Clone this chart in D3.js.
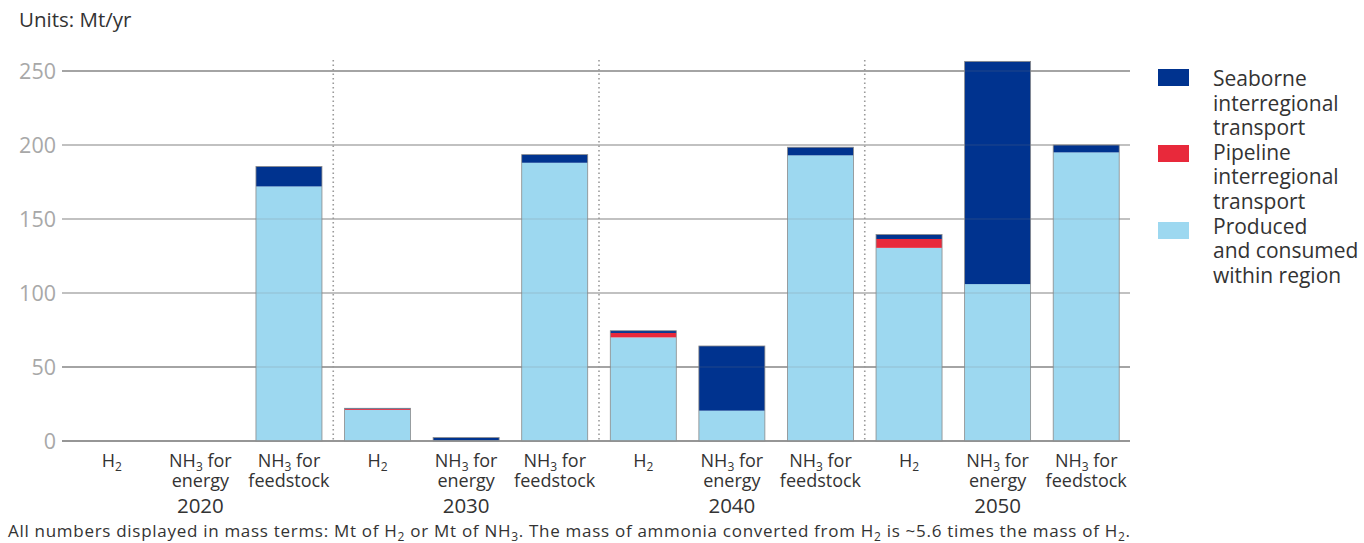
<!DOCTYPE html>
<html><head><meta charset="utf-8">
<script src="https://cdn.jsdelivr.net/npm/d3@7"></script>
<style>
html,body{margin:0;padding:0;background:#fff;}
svg{display:block;font-family:"Open Sans","Noto Sans",sans-serif;}
</style></head>
<body><svg id="chart" width="1364" height="543"></svg>
<script>
// ---- data ----
const years = ["2020", "2030", "2040", "2050"];
const kinds = [["H_{2}"], ["NH_{3} for", "energy"], ["NH_{3} for", "feedstock"]];
const produced = [0, 0, 172, 21, 0.3, 188, 70, 20.5, 193, 130.5, 106, 195];
const pipeline = [0, 0, 0, 0.6, 0, 0, 3, 0, 0, 6, 0, 0];
const seaborne = [0, 0, 13.5, 0.5, 2, 5.5, 1.5, 43.7, 5.5, 3, 150.5, 5];
const yTicks = [0, 50, 100, 150, 200, 250];
const seriesKeys = ["produced", "pipeline", "seaborne"];
const seriesColors = {produced: "#9dd8f0", pipeline: "#e8293b", seaborne: "#00338f"};
const legendItems = [
  {key: "seaborne", lines: ["Seaborne", "interregional", "transport"]},
  {key: "pipeline", lines: ["Pipeline", "interregional", "transport"]},
  {key: "produced", lines: ["Produced", "and consumed", "within region"]}
];
const unitsLabel = "Units: Mt/yr";
const footnote = "All numbers displayed in mass terms: Mt of H_{2} or Mt of NH_{3}. The mass of ammonia converted from H_{2} is ~5.6 times the mass of H_{2}.";

// ---- build rows ----
const rows = [];
years.forEach((yr, gi) => kinds.forEach((k, ki) => {
  const i = gi * kinds.length + ki;
  rows.push({id: yr + "-" + ki, year: yr, gi, ki, lines: k,
    produced: produced[i], pipeline: pipeline[i], seaborne: seaborne[i]});
}));

const svg = d3.select("#chart");
const x = d3.scaleBand().domain(rows.map(d => d.id)).range([67.5, 1130.5]).paddingInner(0.255).paddingOuter(0.1275);
const y = d3.scaleLinear().domain([0, 250]).range([441, 71]);
const gridX0 = 62, gridX1 = 1130;

// appends rich text (with _{sub}) to a text element; first tspan may carry x/dy for line breaks
function richText(sel, str, size, subSize, lineX, lineDy) {
  const parts = str.split(/(_\{[^}]*\})/).filter(p => p);
  let shift = 0, first = true;
  parts.forEach(p => {
    const m = p.match(/^_\{([^}]*)\}$/);
    let t;
    if (m) {
      t = sel.append("tspan").attr("font-size", subSize).text(m[1]);
      t.attr("dy", (first && lineDy ? lineDy : 0) + 3.5);
      shift = -3.5;
    } else {
      t = sel.append("tspan").attr("font-size", size).text(p);
      const dy = (first && lineDy ? lineDy : 0) + shift;
      if (dy) t.attr("dy", dy);
      shift = 0;
    }
    if (first && lineX !== undefined) t.attr("x", lineX);
    first = false;
  });
  return shift;
}

// units
svg.append("text").attr("x", 19).attr("y", 27).attr("font-size", 20.5).attr("fill", "#333").text(unitsLabel);

// gridlines + y labels
const gridColor = v => (v === 0 || v === 50 || v === 250) ? "#8f8f8f" : "#bdbdbd";
svg.append("g").selectAll("line").data(yTicks).join("line")
  .attr("x1", gridX0).attr("x2", gridX1)
  .attr("y1", d => y(d)).attr("y2", d => y(d))
  .attr("stroke", gridColor).attr("stroke-width", 1.3);
svg.append("g").selectAll("text").data(yTicks).join("text")
  .attr("x", 56).attr("y", d => y(d) + 7.5).attr("text-anchor", "end")
  .attr("font-size", 21.5).attr("fill", "#a8a8a8").text(d => d);

// bars
const stack = d3.stack().keys(seriesKeys)(rows);
const barG = svg.append("g");
stack.forEach(layer => {
  barG.append("g").attr("fill", seriesColors[layer.key])
    .selectAll("rect").data(layer.filter(d => d[1] - d[0] > 0)).join("rect")
    .attr("x", d => x(d.data.id)).attr("width", x.bandwidth())
    .attr("y", d => y(d[1])).attr("height", d => y(d[0]) - y(d[1]));
});
// bar outlines
barG.append("g").selectAll("rect").data(rows.filter(d => d.produced + d.pipeline + d.seaborne > 0)).join("rect")
  .attr("x", d => x(d.id)).attr("width", x.bandwidth())
  .attr("y", d => y(d.produced + d.pipeline + d.seaborne))
  .attr("height", d => y(0) - y(d.produced + d.pipeline + d.seaborne))
  .attr("fill", "none").attr("stroke", "#8a8a8a").attr("stroke-width", 0.8);

// faint gridlines over bars
svg.append("g").selectAll("line").data(yTicks.filter(v => v > 0)).join("line")
  .attr("x1", gridX0).attr("x2", gridX1)
  .attr("y1", d => y(d)).attr("y2", d => y(d))
  .attr("stroke", "#7a7a7a").attr("stroke-opacity", 0.18).attr("stroke-width", 1.3);
svg.append("line").attr("x1", gridX0).attr("x2", gridX1).attr("y1", y(0)).attr("y2", y(0))
  .attr("stroke", "#8f8f8f").attr("stroke-width", 1.3);

// dotted group separators
const seps = years.slice(1).map((yr, i) => {
  const prev = rows.find(r => r.gi === i && r.ki === kinds.length - 1).id;
  const next = rows.find(r => r.gi === i + 1 && r.ki === 0).id;
  return (x(prev) + x.bandwidth() + x(next)) / 2;
});
svg.append("g").selectAll("line").data(seps).join("line")
  .attr("x1", d => d).attr("x2", d => d).attr("y1", 60).attr("y2", y(0))
  .attr("stroke", "#9a9a9a").attr("stroke-width", 1.6).attr("stroke-dasharray", "1.5,3");

// category labels (one text element per category, lines as tspans)
const catG = svg.append("g").attr("fill", "#333").attr("text-anchor", "middle");
rows.forEach(r => {
  const cx = x(r.id) + x.bandwidth() / 2;
  const t = catG.append("text").attr("font-size", 18).attr("x", cx).attr("y", 467);
  let carry = 0;
  r.lines.forEach((ln, li) => {
    carry = richText(t, ln, 18, 12, cx, li === 0 ? 0 : 20 + carry);
  });
});
// year labels
svg.append("g").selectAll("text").data(years).join("text")
  .attr("x", (d, gi) => { const id = rows.find(r => r.gi === gi && r.ki === 1).id; return x(id) + x.bandwidth() / 2; })
  .attr("y", 513).attr("text-anchor", "middle").attr("font-size", 20.5).attr("fill", "#333").text(d => d);

// footnote
const fn = svg.append("text").attr("x", 8).attr("y", 537).attr("font-size", 17)
  .attr("fill", "#333").attr("textLength", 1122).attr("lengthAdjust", "spacing");
richText(fn, footnote, 17, 12);

// legend
const lg = svg.append("g");
const swY = [69, 145, 222];
legendItems.forEach((it, i) => {
  lg.append("rect").attr("x", 1158).attr("y", swY[i]).attr("width", 31).attr("height", 17).attr("fill", seriesColors[it.key]);
  it.lines.forEach((ln, li) => {
    lg.append("text").attr("x", 1213).attr("y", 86 + (i * 3 + li) * 24.6)
      .attr("font-size", 21).attr("fill", "#333").text(ln);
  });
});
</script></body></html>
